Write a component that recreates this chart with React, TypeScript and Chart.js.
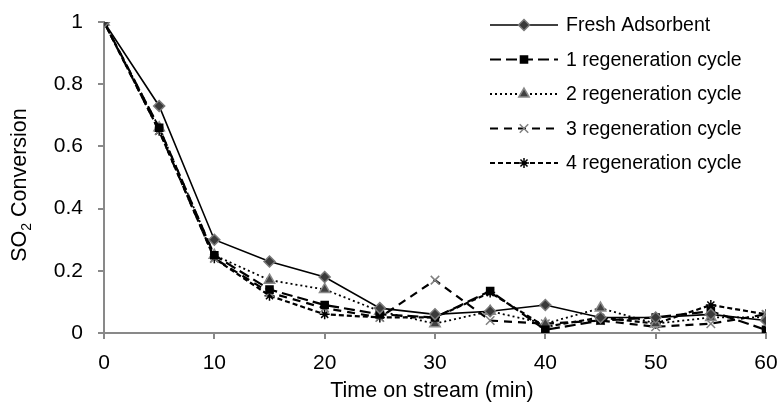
import React, { useEffect, useRef } from "react";
import { Chart, registerables } from "chart.js";
import { drawPoint } from "chart.js/helpers";

Chart.register(...registerables);

const times = [0, 5, 10, 15, 20, 25, 30, 35, 40, 45, 50, 55, 60];
const fresh = [1, 0.73, 0.3, 0.23, 0.18, 0.08, 0.06, 0.07, 0.09, 0.05, 0.05, 0.06, 0.04];
const regen1 = [1, 0.66, 0.25, 0.14, 0.09, 0.06, 0.05, 0.135, 0.01, 0.04, 0.05, 0.07, 0.01];
const regen2 = [1, 0.66, 0.25, 0.17, 0.14, 0.07, 0.03, 0.07, 0.03, 0.08, 0.03, 0.05, 0.05];
const regen3 = [1, 0.65, 0.24, 0.13, 0.08, 0.05, 0.17, 0.04, 0.03, 0.04, 0.02, 0.03, 0.06];
const regen4 = [1, 0.65, 0.24, 0.12, 0.06, 0.05, 0.05, 0.13, 0.02, 0.05, 0.03, 0.09, 0.06];
const seriesLabels = [
  "Fresh Adsorbent",
  "1 regeneration cycle",
  "2 regeneration cycle",
  "3 regeneration cycle",
  "4 regeneration cycle",
];
const xTitle = "Time on stream (min)";

const FONT = '"Liberation Sans", Arial, sans-serif';

const styles = [
  { dash: [], width: 1.6, pointStyle: "rectRot", radius: 5.5, fill: "#3a3a3a", stroke: "#7a7a7a" },
  { dash: [11, 5], width: 2.2, pointStyle: "rect", radius: 5, fill: "#000000", stroke: "#000000" },
  { dash: [2, 3], width: 1.8, pointStyle: "triangle", radius: 6, fill: "#404040", stroke: "#8a8a8a" },
  { dash: [8, 6], width: 2.2, pointStyle: "crossRot", radius: 6, fill: "#808080", stroke: "#808080" },
  { dash: [5, 3], width: 2.2, pointStyle: "star", radius: 5, fill: "#000000", stroke: "#000000" },
];

const allSeries = [fresh, regen1, regen2, regen3, regen4];

const customPlugin = {
  id: "customDecor",
  afterDraw(chart: any) {
    const ctx = chart.ctx as CanvasRenderingContext2D;
    ctx.save();
    // Legend
    const lx0 = 490;
    const lx1 = 558;
    const tx = 566;
    seriesLabels.forEach((label, i) => {
      const y = 25 + 34.5 * i;
      const s = styles[i];
      ctx.beginPath();
      ctx.setLineDash(s.dash);
      ctx.lineWidth = s.width;
      ctx.strokeStyle = "#000";
      ctx.moveTo(lx0, y);
      ctx.lineTo(lx1, y);
      ctx.stroke();
      ctx.setLineDash([]);
      ctx.fillStyle = s.fill;
      ctx.strokeStyle = s.stroke;
      ctx.lineWidth = 1.5;
      drawPoint(ctx, { pointStyle: s.pointStyle, radius: s.radius, rotation: 0, borderWidth: 1.5 } as any, (lx0 + lx1) / 2, y);
      ctx.fillStyle = "#000";
      ctx.font = `19.5px ${FONT}`;
      ctx.textAlign = "left";
      ctx.textBaseline = "middle";
      ctx.fillText(label, tx, y + 1);
    });
    // X title
    const area = chart.chartArea;
    ctx.fillStyle = "#000";
    ctx.font = `21.5px ${FONT}`;
    ctx.textAlign = "center";
    ctx.textBaseline = "alphabetic";
    ctx.fillText(xTitle, (area.left + area.right) / 2 - 3, 397);
    // Y title with subscript
    ctx.translate(26, 185);
    ctx.rotate(-Math.PI / 2);
    const big = `21.5px ${FONT}`;
    const small = `14px ${FONT}`;
    ctx.font = big;
    const wSO = ctx.measureText("SO").width;
    const wRest = ctx.measureText(" Conversion").width;
    ctx.font = small;
    const w2 = ctx.measureText("2").width;
    const total = wSO + w2 + wRest;
    let x = -total / 2;
    ctx.textAlign = "left";
    ctx.font = big;
    ctx.fillText("SO", x, 0);
    x += wSO;
    ctx.font = small;
    ctx.fillText("2", x, 5);
    x += w2;
    ctx.font = big;
    ctx.fillText(" Conversion", x, 0);
    ctx.restore();
  },
};

export default function App() {
  const ref = useRef<HTMLCanvasElement>(null);
  useEffect(() => {
    document.body.style.margin = "0";
    const canvas = ref.current!;
    const chart = new Chart(canvas, {
      type: "line",
      data: {
        datasets: allSeries.map((vals, i) => ({
          label: seriesLabels[i],
          data: times.map((t, j) => ({ x: t, y: vals[j] })),
          borderColor: "#000",
          borderWidth: styles[i].width,
          borderDash: styles[i].dash,
          pointStyle: styles[i].pointStyle as any,
          pointRadius: styles[i].radius,
          pointBackgroundColor: styles[i].fill,
          pointBorderColor: styles[i].stroke,
          pointBorderWidth: 1.5,
          fill: false,
          tension: 0,
        })),
      },
      options: {
        animation: false,
        responsive: false,
        events: [],
        layout: { padding: { top: 22, right: 13, left: 0, bottom: 0 } },
        plugins: {
          legend: { display: false },
          tooltip: { enabled: false },
        },
        scales: {
          x: {
            type: "linear",
            min: 0,
            max: 60,
            afterFit: (s: any) => {
              s.height = 69;
              s.paddingLeft = 0;
              s.paddingRight = 0;
            },
            ticks: {
              stepSize: 10,
              color: "#000",
              font: { family: FONT, size: 21 },
              padding: 12,
              maxRotation: 0,
            },
            grid: {
              drawOnChartArea: false,
              drawTicks: true,
              tickLength: 6,
              color: "#898989",
              lineWidth: 2,
            },
            border: { color: "#898989", width: 2 },
          },
          y: {
            min: 0,
            max: 1,
            afterFit: (s: any) => {
              s.width = 104;
              s.paddingTop = 0;
              s.paddingBottom = 0;
            },
            ticks: {
              stepSize: 0.2,
              color: "#000",
              font: { family: FONT, size: 21 },
              padding: 15,
              callback: (v: any) => String(Number(Number(v).toFixed(1))),
            },
            grid: {
              drawOnChartArea: false,
              drawTicks: true,
              tickLength: 6,
              color: "#898989",
              lineWidth: 2,
            },
            border: { color: "#898989", width: 2 },
          },
        },
      },
      plugins: [customPlugin],
    });
    return () => chart.destroy();
  }, []);
  return (
    <div style={{ width: 779, height: 402 }}>
      <canvas ref={ref} width={779} height={402} style={{ width: 779, height: 402 }} />
    </div>
  );
}
